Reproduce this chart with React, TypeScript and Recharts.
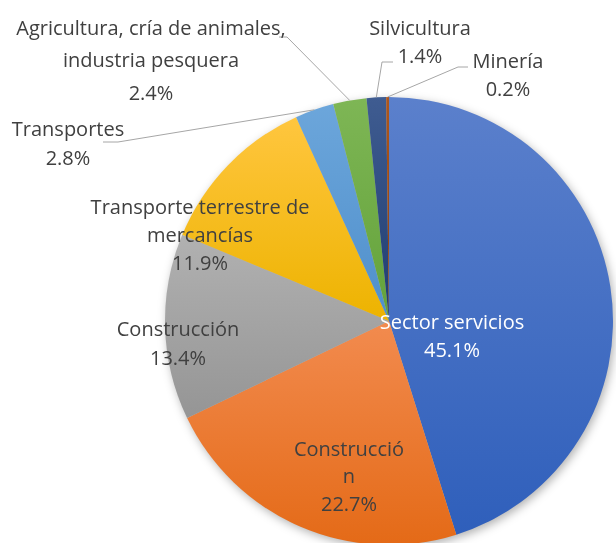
import { PieChart, Pie, Cell } from "recharts";

const categories = [
  "Sector servicios",
  "Construcció\nn",
  "Construcción",
  "Transporte terrestre de\nmercancías",
  "Transportes",
  "Agricultura, cría de animales,\nindustria pesquera",
  "Silvicultura",
  "Minería",
];
const shares = [45.1, 22.7, 13.4, 11.9, 2.8, 2.4, 1.4, 0.2];

// vertical gradient per slice: top shade, bottom shade
const topShades = ["#5B80CC", "#F28B4F", "#B1B1B1", "#FFC63F", "#6CA6DB", "#7EB655", "#3F5C91", "#AD561C"];
const bottomShades = ["#2F5FBB", "#E46A17", "#959595", "#EDB300", "#4F8FCB", "#63A23A", "#1F3D70", "#8E3F09"];

const data = categories.map((name, i) => ({ name, value: shares[i] }));

// label placement, offsets from the pie centre
const labelLayout = [
  { dx: 63, dy: 0, gap: 28, fill: "#FFFFFF" },
  { dx: -40, dy: 127, gap: 27.5 },
  { dx: -211, dy: 7, gap: 29 },
  { dx: -189, dy: -115, gap: 28 },
  { dx: -321, dy: -193, gap: 29, elbow: [-271, -179], end: [-286, -179] },
  { dx: -238, dy: -294, gap: 32.5, elbow: [-102, -284], end: [-110, -284] },
  { dx: 31, dy: -294, gap: 28, elbow: [-7, -259], end: [4, -259] },
  { dx: 119, dy: -261, gap: 28, elbow: [69, -254], end: [79, -254] },
];

const FONT = "'Open Sans', 'Noto Sans', sans-serif";
const RAD = Math.PI / 180;

function renderLabel(props: any) {
  const { cx, cy, midAngle, outerRadius, index } = props;
  const lay: any = labelLayout[index];
  const lines = [...categories[index].split("\n"), `${shares[index].toFixed(1)}%`];
  const x = cx + lay.dx;
  const y0 = cy + lay.dy;
  let leader = null;
  if (lay.elbow) {
    const sx = cx + outerRadius * Math.cos(-midAngle * RAD);
    const sy = cy + outerRadius * Math.sin(-midAngle * RAD);
    const pts = `${sx},${sy} ${cx + lay.elbow[0]},${cy + lay.elbow[1]} ${cx + lay.end[0]},${cy + lay.end[1]}`;
    leader = <polyline points={pts} fill="none" stroke="#A6A6A6" strokeWidth={1} />;
  }
  return (
    <g key={`lbl-${index}`}>
      {leader}
      {lines.map((t, j) => (
        <text
          key={j}
          x={x}
          y={y0 + j * lay.gap}
          textAnchor="middle"
          dominantBaseline="central"
          fill={lay.fill || "#404040"}
          fontFamily={FONT}
          fontSize={20}
        >
          {t}
        </text>
      ))}
    </g>
  );
}

export default function App() {
  return (
    <div style={{ position: "absolute", left: 0, top: 0, width: 616, height: 543, background: "#fff" }}>
      <style>{`.pie-shadow { filter: blur(3px); }`}</style>
      <PieChart width={616} height={543} margin={{ top: 0, right: 0, bottom: 0, left: 0 }}>
        <defs>
          {topShades.map((c, i) => (
            <linearGradient key={i} id={`grad-${i}`} x1="0" y1="0" x2="0" y2="1">
              <stop offset="0%" stopColor={c} />
              <stop offset="100%" stopColor={bottomShades[i]} />
            </linearGradient>
          ))}
        </defs>
        <Pie
          data={data}
          dataKey="value"
          nameKey="name"
          cx={391}
          cy={324}
          outerRadius={224}
          startAngle={90}
          endAngle={-270}
          stroke="none"
          fill="rgba(0,0,0,0.3)"
          className="pie-shadow"
          label={false}
          labelLine={false}
          isAnimationActive={false}
        />
        <Pie
          data={data}
          dataKey="value"
          nameKey="name"
          cx={389}
          cy={321}
          outerRadius={224}
          startAngle={90}
          endAngle={-270}
          stroke="none"
          label={renderLabel}
          labelLine={false}
          isAnimationActive={false}
        >
          {data.map((_, i) => (
            <Cell key={i} fill={`url(#grad-${i})`} />
          ))}
        </Pie>
      </PieChart>
    </div>
  );
}
